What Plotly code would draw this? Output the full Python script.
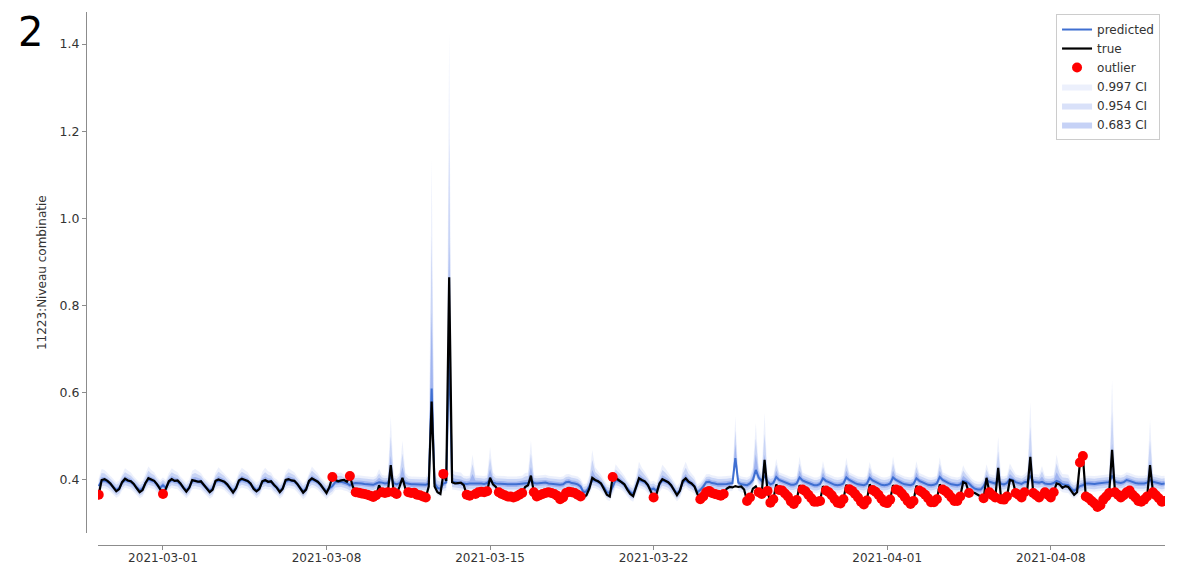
import numpy as np
import pandas as pd
import plotly.graph_objects as go

# 3-hourly time stamps, 2021-02-26 06:00 .. 2021-04-12 21:00
times = pd.date_range("2021-02-26 06:00", "2021-04-12 21:00", freq="3h")

# observed values, one row per day (00,03,06,09,12,15,18,21 h); first day starts 06h
true_rows = [
    [0.366, 0.400, 0.402, 0.398, 0.392, 0.383],                       # 02-26
    [0.374, 0.379, 0.395, 0.403, 0.399, 0.397, 0.391, 0.381],         # 02-27
    [0.372, 0.377, 0.393, 0.404, 0.401, 0.398, 0.390, 0.380],         # 02-28
    [0.368, 0.380, 0.397, 0.402, 0.398, 0.399, 0.392, 0.382],         # 03-01
    [0.373, 0.382, 0.400, 0.398, 0.396, 0.397, 0.389, 0.379],
    [0.372, 0.378, 0.398, 0.401, 0.399, 0.396, 0.390, 0.381],
    [0.371, 0.381, 0.399, 0.403, 0.400, 0.398, 0.392, 0.380],
    [0.374, 0.379, 0.397, 0.400, 0.396, 0.397, 0.389, 0.382],
    [0.372, 0.380, 0.400, 0.402, 0.399, 0.398, 0.391, 0.381],
    [0.371, 0.378, 0.398, 0.404, 0.400, 0.396, 0.389, 0.380],         # 03-07
    [0.370, 0.384, 0.407, 0.400, 0.397, 0.399, 0.400, 0.396],         # 03-08
    [0.409, 0.385, 0.372, 0.371, 0.369, 0.368, 0.366, 0.364],
    [0.361, 0.365, 0.388, 0.372, 0.370, 0.372, 0.434, 0.372],         # 03-10
    [0.368, 0.385, 0.405, 0.380, 0.372, 0.370, 0.371, 0.366],
    [0.365, 0.362, 0.360, 0.385, 0.580, 0.385, 0.372, 0.368],         # 03-12
    [0.414, 0.398, 0.865, 0.395, 0.392, 0.393, 0.394, 0.388],         # 03-13
    [0.366, 0.364, 0.365, 0.368, 0.372, 0.373, 0.372, 0.374],
    [0.405, 0.390, 0.384, 0.372, 0.368, 0.365, 0.362, 0.362],         # 03-15
    [0.360, 0.362, 0.366, 0.370, 0.384, 0.388, 0.410, 0.372],
    [0.362, 0.365, 0.368, 0.370, 0.372, 0.370, 0.368, 0.364],
    [0.356, 0.360, 0.370, 0.373, 0.372, 0.370, 0.366, 0.362],
    [0.360, 0.365, 0.380, 0.405, 0.400, 0.397, 0.392, 0.380],         # 03-19
    [0.366, 0.362, 0.407, 0.405, 0.400, 0.396, 0.390, 0.378],
    [0.368, 0.363, 0.385, 0.404, 0.400, 0.397, 0.389, 0.375],
    [0.360, 0.368, 0.392, 0.402, 0.398, 0.395, 0.388, 0.376],         # 03-22
    [0.365, 0.375, 0.398, 0.404, 0.396, 0.392, 0.385, 0.368],
    [0.356, 0.362, 0.372, 0.375, 0.370, 0.368, 0.366, 0.364],
    [0.368, 0.380, 0.384, 0.383, 0.386, 0.384, 0.385, 0.378],         # 03-25
    [0.352, 0.360, 0.380, 0.385, 0.372, 0.368, 0.446, 0.375],
    [0.348, 0.356, 0.390, 0.377, 0.376, 0.369, 0.362, 0.351],
    [0.345, 0.354, 0.388, 0.378, 0.374, 0.366, 0.358, 0.350],
    [0.350, 0.352, 0.386, 0.376, 0.372, 0.365, 0.356, 0.348],
    [0.346, 0.356, 0.389, 0.379, 0.375, 0.368, 0.360, 0.350],
    [0.344, 0.353, 0.390, 0.377, 0.373, 0.366, 0.357, 0.349],         # 03-31
    [0.347, 0.355, 0.388, 0.378, 0.376, 0.369, 0.361, 0.352],         # 04-01
    [0.345, 0.352, 0.387, 0.376, 0.372, 0.366, 0.358, 0.349],
    [0.349, 0.356, 0.390, 0.378, 0.374, 0.368, 0.360, 0.352],
    [0.352, 0.362, 0.395, 0.392, 0.370, 0.372, 0.370, 0.366],         # 04-04
    [0.362, 0.358, 0.405, 0.372, 0.365, 0.360, 0.428, 0.356],
    [0.355, 0.362, 0.400, 0.398, 0.370, 0.366, 0.360, 0.372],
    [0.380, 0.453, 0.370, 0.365, 0.360, 0.368, 0.372, 0.366],         # 04-07
    [0.360, 0.372, 0.392, 0.390, 0.382, 0.386, 0.384, 0.375],         # 04-08
    [0.366, 0.372, 0.440, 0.455, 0.362, 0.358, 0.352, 0.346],
    [0.338, 0.342, 0.355, 0.362, 0.370, 0.469, 0.372, 0.366],
    [0.360, 0.365, 0.372, 0.376, 0.366, 0.360, 0.352, 0.350],
    [0.355, 0.362, 0.434, 0.372, 0.365, 0.358, 0.350, 0.352],         # 04-12
]

# predicted values, same layout
pred_rows = [
    [0.386, 0.398, 0.399, 0.396, 0.391, 0.384],
    [0.377, 0.381, 0.394, 0.400, 0.398, 0.396, 0.390, 0.383],
    [0.376, 0.380, 0.393, 0.401, 0.399, 0.397, 0.389, 0.382],
    [0.388, 0.382, 0.395, 0.400, 0.398, 0.397, 0.390, 0.383],         # 03-01
    [0.376, 0.383, 0.397, 0.398, 0.396, 0.395, 0.388, 0.381],
    [0.375, 0.380, 0.396, 0.399, 0.398, 0.395, 0.389, 0.382],
    [0.375, 0.382, 0.397, 0.401, 0.399, 0.397, 0.390, 0.382],
    [0.376, 0.381, 0.395, 0.398, 0.396, 0.396, 0.388, 0.383],
    [0.375, 0.381, 0.397, 0.400, 0.398, 0.397, 0.390, 0.382],
    [0.374, 0.380, 0.396, 0.401, 0.399, 0.395, 0.388, 0.381],
    [0.374, 0.381, 0.386, 0.395, 0.395, 0.396, 0.394, 0.392],         # 03-08
    [0.388, 0.392, 0.393, 0.393, 0.392, 0.391, 0.390, 0.389],
    [0.389, 0.392, 0.395, 0.394, 0.392, 0.393, 0.410, 0.393],         # 03-10
    [0.390, 0.393, 0.400, 0.393, 0.391, 0.390, 0.390, 0.390],
    [0.390, 0.389, 0.389, 0.392, 0.610, 0.392, 0.382, 0.380],         # 03-12
    [0.392, 0.394, 0.700, 0.396, 0.395, 0.394, 0.393, 0.392],
    [0.391, 0.392, 0.392, 0.393, 0.393, 0.392, 0.391, 0.393],
    [0.400, 0.394, 0.392, 0.392, 0.391, 0.391, 0.390, 0.390],         # 03-15
    [0.389, 0.390, 0.391, 0.392, 0.392, 0.393, 0.400, 0.393],
    [0.392, 0.393, 0.394, 0.394, 0.392, 0.391, 0.390, 0.390],
    [0.389, 0.390, 0.395, 0.396, 0.393, 0.392, 0.390, 0.385],
    [0.372, 0.374, 0.385, 0.400, 0.399, 0.396, 0.391, 0.383],         # 03-19
    [0.372, 0.370, 0.386, 0.400, 0.398, 0.395, 0.389, 0.380],
    [0.372, 0.368, 0.384, 0.400, 0.398, 0.395, 0.388, 0.378],
    [0.380, 0.375, 0.390, 0.399, 0.397, 0.394, 0.387, 0.379],         # 03-22
    [0.369, 0.376, 0.395, 0.400, 0.394, 0.391, 0.386, 0.372],
    [0.377, 0.385, 0.395, 0.396, 0.393, 0.392, 0.390, 0.390],
    [0.390, 0.391, 0.392, 0.393, 0.450, 0.394, 0.390, 0.389],         # 03-25
    [0.388, 0.392, 0.400, 0.423, 0.405, 0.398, 0.410, 0.396],
    [0.390, 0.393, 0.407, 0.400, 0.397, 0.394, 0.391, 0.389],
    [0.389, 0.392, 0.406, 0.399, 0.396, 0.393, 0.390, 0.388],
    [0.388, 0.391, 0.404, 0.398, 0.395, 0.392, 0.389, 0.388],
    [0.389, 0.392, 0.406, 0.400, 0.396, 0.393, 0.390, 0.389],
    [0.388, 0.391, 0.405, 0.399, 0.395, 0.392, 0.389, 0.388],         # 03-31
    [0.389, 0.392, 0.406, 0.400, 0.396, 0.393, 0.390, 0.389],         # 04-01
    [0.388, 0.391, 0.404, 0.398, 0.395, 0.392, 0.389, 0.388],
    [0.389, 0.392, 0.407, 0.400, 0.396, 0.393, 0.390, 0.389],
    [0.388, 0.390, 0.398, 0.396, 0.392, 0.385, 0.380, 0.378],         # 04-04
    [0.378, 0.385, 0.400, 0.396, 0.394, 0.392, 0.400, 0.391],
    [0.390, 0.393, 0.402, 0.400, 0.395, 0.393, 0.391, 0.395],
    [0.396, 0.410, 0.396, 0.395, 0.394, 0.396, 0.392, 0.391],         # 04-07
    [0.391, 0.393, 0.398, 0.395, 0.390, 0.389, 0.388, 0.380],         # 04-08
    [0.375, 0.380, 0.386, 0.388, 0.392, 0.392, 0.391, 0.391],
    [0.392, 0.393, 0.394, 0.395, 0.395, 0.410, 0.396, 0.394],
    [0.393, 0.395, 0.400, 0.398, 0.395, 0.393, 0.392, 0.392],
    [0.392, 0.394, 0.400, 0.396, 0.394, 0.392, 0.391, 0.392],         # 04-12
]

# predictive standard deviation (upper side), same layout
sigma_rows = [
    [0.006, 0.009, 0.008, 0.007, 0.006, 0.006],
    [0.006, 0.006, 0.007, 0.009, 0.008, 0.007, 0.006, 0.006],
    [0.006, 0.006, 0.007, 0.010, 0.008, 0.007, 0.006, 0.006],
    [0.006, 0.006, 0.007, 0.009, 0.008, 0.007, 0.006, 0.006],         # 03-01
    [0.006, 0.006, 0.008, 0.009, 0.008, 0.007, 0.006, 0.006],
    [0.006, 0.006, 0.007, 0.010, 0.008, 0.007, 0.006, 0.006],
    [0.006, 0.006, 0.007, 0.009, 0.008, 0.007, 0.006, 0.006],
    [0.006, 0.006, 0.008, 0.010, 0.008, 0.007, 0.006, 0.006],
    [0.006, 0.006, 0.007, 0.009, 0.008, 0.007, 0.006, 0.006],
    [0.006, 0.006, 0.007, 0.010, 0.008, 0.007, 0.006, 0.006],
    [0.006, 0.006, 0.006, 0.008, 0.007, 0.007, 0.006, 0.006],         # 03-08
    [0.006, 0.006, 0.006, 0.006, 0.006, 0.006, 0.006, 0.006],
    [0.006, 0.006, 0.010, 0.006, 0.006, 0.006, 0.045, 0.006],         # 03-10
    [0.006, 0.008, 0.030, 0.008, 0.006, 0.006, 0.006, 0.006],
    [0.006, 0.006, 0.006, 0.010, 0.175, 0.010, 0.008, 0.008],         # 03-12
    [0.006, 0.008, 0.242, 0.010, 0.008, 0.008, 0.008, 0.006],
    [0.006, 0.006, 0.022, 0.006, 0.006, 0.006, 0.006, 0.006],
    [0.025, 0.008, 0.006, 0.006, 0.006, 0.006, 0.006, 0.006],         # 03-15
    [0.006, 0.006, 0.006, 0.006, 0.008, 0.008, 0.030, 0.006],
    [0.006, 0.006, 0.006, 0.006, 0.006, 0.006, 0.006, 0.006],
    [0.006, 0.006, 0.006, 0.006, 0.006, 0.006, 0.006, 0.006],
    [0.006, 0.006, 0.008, 0.023, 0.010, 0.008, 0.007, 0.006],         # 03-19
    [0.006, 0.006, 0.006, 0.012, 0.010, 0.008, 0.007, 0.006],
    [0.006, 0.006, 0.008, 0.014, 0.010, 0.008, 0.007, 0.006],
    [0.006, 0.006, 0.008, 0.012, 0.010, 0.008, 0.007, 0.006],         # 03-22
    [0.006, 0.006, 0.010, 0.014, 0.010, 0.008, 0.007, 0.006],
    [0.006, 0.006, 0.006, 0.006, 0.006, 0.006, 0.006, 0.006],
    [0.006, 0.006, 0.006, 0.006, 0.032, 0.006, 0.006, 0.006],         # 03-25
    [0.006, 0.006, 0.010, 0.036, 0.008, 0.006, 0.048, 0.006],
    [0.006, 0.006, 0.014, 0.006, 0.006, 0.006, 0.006, 0.006],
    [0.006, 0.006, 0.016, 0.006, 0.006, 0.006, 0.006, 0.006],
    [0.006, 0.006, 0.013, 0.006, 0.006, 0.006, 0.006, 0.006],
    [0.006, 0.006, 0.015, 0.006, 0.006, 0.006, 0.006, 0.006],
    [0.006, 0.006, 0.012, 0.006, 0.006, 0.006, 0.006, 0.006],         # 03-31
    [0.006, 0.006, 0.016, 0.006, 0.006, 0.006, 0.006, 0.006],         # 04-01
    [0.006, 0.006, 0.013, 0.006, 0.006, 0.006, 0.006, 0.006],
    [0.006, 0.006, 0.015, 0.006, 0.006, 0.006, 0.006, 0.006],
    [0.006, 0.006, 0.012, 0.008, 0.006, 0.006, 0.006, 0.006],         # 04-04
    [0.006, 0.006, 0.012, 0.006, 0.006, 0.006, 0.033, 0.006],
    [0.006, 0.006, 0.012, 0.008, 0.006, 0.006, 0.006, 0.006],
    [0.008, 0.056, 0.006, 0.006, 0.006, 0.012, 0.006, 0.006],         # 04-07
    [0.006, 0.006, 0.020, 0.010, 0.008, 0.008, 0.008, 0.006],         # 04-08
    [0.006, 0.006, 0.006, 0.006, 0.006, 0.006, 0.006, 0.006],
    [0.006, 0.006, 0.006, 0.006, 0.006, 0.073, 0.006, 0.006],
    [0.006, 0.006, 0.006, 0.006, 0.006, 0.006, 0.006, 0.006],
    [0.006, 0.006, 0.046, 0.006, 0.006, 0.006, 0.006, 0.006],         # 04-12
]

sigma_floor = 0.006   # lower half of the intervals stays narrow

ci_names = ["0.997 CI", "0.954 CI", "0.683 CI"]
ci_k = [3, 2, 1]

x_tick_vals = ["2021-03-01", "2021-03-08", "2021-03-15", "2021-03-22", "2021-04-01", "2021-04-08"]
y_tick_vals = [0.4, 0.6, 0.8, 1.0, 1.2, 1.4]

true_vals = np.array([v for r in true_rows for v in r])
pred_vals = np.array([v for r in pred_rows for v in r])
sigma_vals = np.array([v for r in sigma_rows for v in r])
assert len(true_vals) == len(times) == len(pred_vals) == len(sigma_vals)

outlier_mask = np.abs(true_vals - pred_vals) > 3 * sigma_vals

fig = go.Figure()
ci_alpha = [0.10, 0.20, 0.30]
for i, (name, k) in enumerate(zip(ci_names, ci_k)):
    upper = pred_vals + k * sigma_vals
    lower = pred_vals - k * np.minimum(sigma_vals, sigma_floor)
    fig.add_trace(go.Scatter(x=times, y=lower, mode="lines", line=dict(width=0),
                             showlegend=False, hoverinfo="skip"))
    fig.add_trace(go.Scatter(x=times, y=upper, mode="lines", line=dict(width=0),
                             fill="tonexty", fillcolor=f"rgba(65,105,225,{ci_alpha[i]})",
                             name=name, legendrank=4 + i))

fig.add_trace(go.Scatter(x=times, y=pred_vals, mode="lines",
                         line=dict(color="#3f6fd1", width=2), name="predicted", legendrank=1))
fig.add_trace(go.Scatter(x=times, y=true_vals, mode="lines",
                         line=dict(color="black", width=2.2), name="true", legendrank=2))
fig.add_trace(go.Scatter(x=times[outlier_mask], y=true_vals[outlier_mask], mode="markers",
                         marker=dict(color="#ff0000", size=10), name="outlier", legendrank=3))

axis_col = "#8c8c8c"
fig.update_layout(
    template="none",
    width=1183, height=565, autosize=False,
    margin=dict(l=78, r=26, t=4, b=28),
    paper_bgcolor="white", plot_bgcolor="white",
    font=dict(family="DejaVu Sans", size=12, color="#333333"),
    showlegend=True,
    legend=dict(x=0.9954, y=0.9962, xanchor="right", yanchor="top",
                bgcolor="white", bordercolor="#cccccc", borderwidth=1,
                font=dict(family="DejaVu Sans", size=12, color="#333333"),
                itemwidth=30, traceorder="normal", tracegroupgap=0),
    xaxis=dict(domain=[0.0111, 1], anchor="free", position=0,
               range=["2021-02-26 05:13", "2021-04-12 21:22"],
               showgrid=False, zeroline=False, showline=True, linecolor=axis_col, linewidth=1.2,
               ticks="outside", ticklen=4, tickcolor=axis_col, tickwidth=1.2,
               ticklabelstandoff=-3,
               tickvals=x_tick_vals, ticktext=x_tick_vals,
               tickfont=dict(size=12, color="#333333"), automargin=False),
    yaxis=dict(domain=[0.0225, 1], anchor="free", position=0,
               range=[0.2784, 1.4734],
               showgrid=False, zeroline=False, showline=True, linecolor=axis_col, linewidth=1.2,
               ticks="outside", ticklen=4, tickcolor=axis_col, tickwidth=1.2,
               tickvals=y_tick_vals, ticktext=[f"{v:.1f}" for v in y_tick_vals],
               tickfont=dict(size=12.5, color="#333333"), automargin=False),
    annotations=[
        dict(text="11223:Niveau combinatie", xref="paper", yref="paper",
             x=-0.0408, y=0.512, xanchor="center", yanchor="middle", textangle=-90,
             showarrow=False, font=dict(size=12, color="#333333")),
        dict(text="2", xref="paper", yref="paper", x=-0.051, y=0.9625,
             xanchor="center", yanchor="middle", showarrow=False,
             font=dict(size=40, color="black")),
    ],
)

fig.write_html("out.html")
